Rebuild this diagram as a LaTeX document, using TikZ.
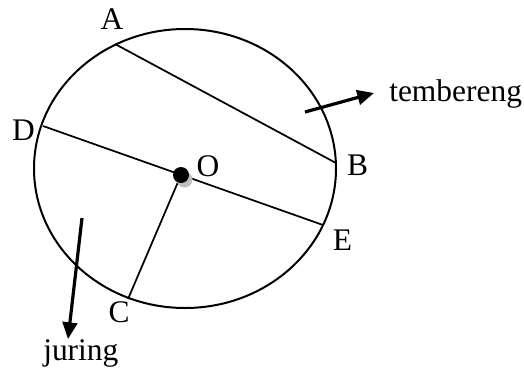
\documentclass[tikz,border=0pt]{standalone}
\usepackage{fontspec}
\setmainfont{Liberation Serif}
\usetikzlibrary{arrows.meta}

\begin{document}
\begin{tikzpicture}[
  x=0.75pt, y=-0.75pt,
  lbl/.style={font=\fontsize{23.6}{24}\selectfont, inner sep=0pt},
  chord/.style={line width=1.3pt},
  pointer/.style={line width=2.4pt, -{Triangle[length=12.5pt,width=11pt]}}
]
  \useasboundingbox (0,0) rectangle (524,368);
  % the circle
  \draw[line width=1.5pt] (185,168.5) ellipse [x radius=151, y radius=139.5];
  % points on the circle and their letters
  \foreach \n/\x/\y/\lx/\ly in {
    A/115/44/112/19,
    B/336/163/357.5/165,
    D/43/126/23.5/130,
    E/323/225/342.5/240,
    C/128/299/119/312.5
  }{
    \coordinate (\n) at (\x,\y);
    \node[lbl] (l\n) at (\lx,\ly) {\n};
  }
  % centre
  \coordinate (O) at (181,175);
  \draw[chord] (A) -- (B);
  \draw[chord] (D) -- (E);
  \draw[chord] (O) -- (C);
  \node[circle, fill=black!25, minimum size=12pt, inner sep=0pt] (shade) at (184.5,179.5) {};
  \node[circle, fill=black, minimum size=12pt, inner sep=0pt] (dot) at (O) {};
  \node[lbl] (lO) at (208,166.5) {O};
  % pointers
  \node[lbl, anchor=base west] (tembereng) at (389,101) {tembereng};
  \node[lbl, anchor=base west] (juring) at (43,360) {juring};
  \coordinate (ts) at (305,112);
  \coordinate (tt) at (374,93);
  \coordinate (js) at (82,218);
  \coordinate (jt) at (68,339);
  \draw[pointer] (ts) -- (tt);
  \draw[pointer] (js) -- (jt);
\end{tikzpicture}
\end{document}
